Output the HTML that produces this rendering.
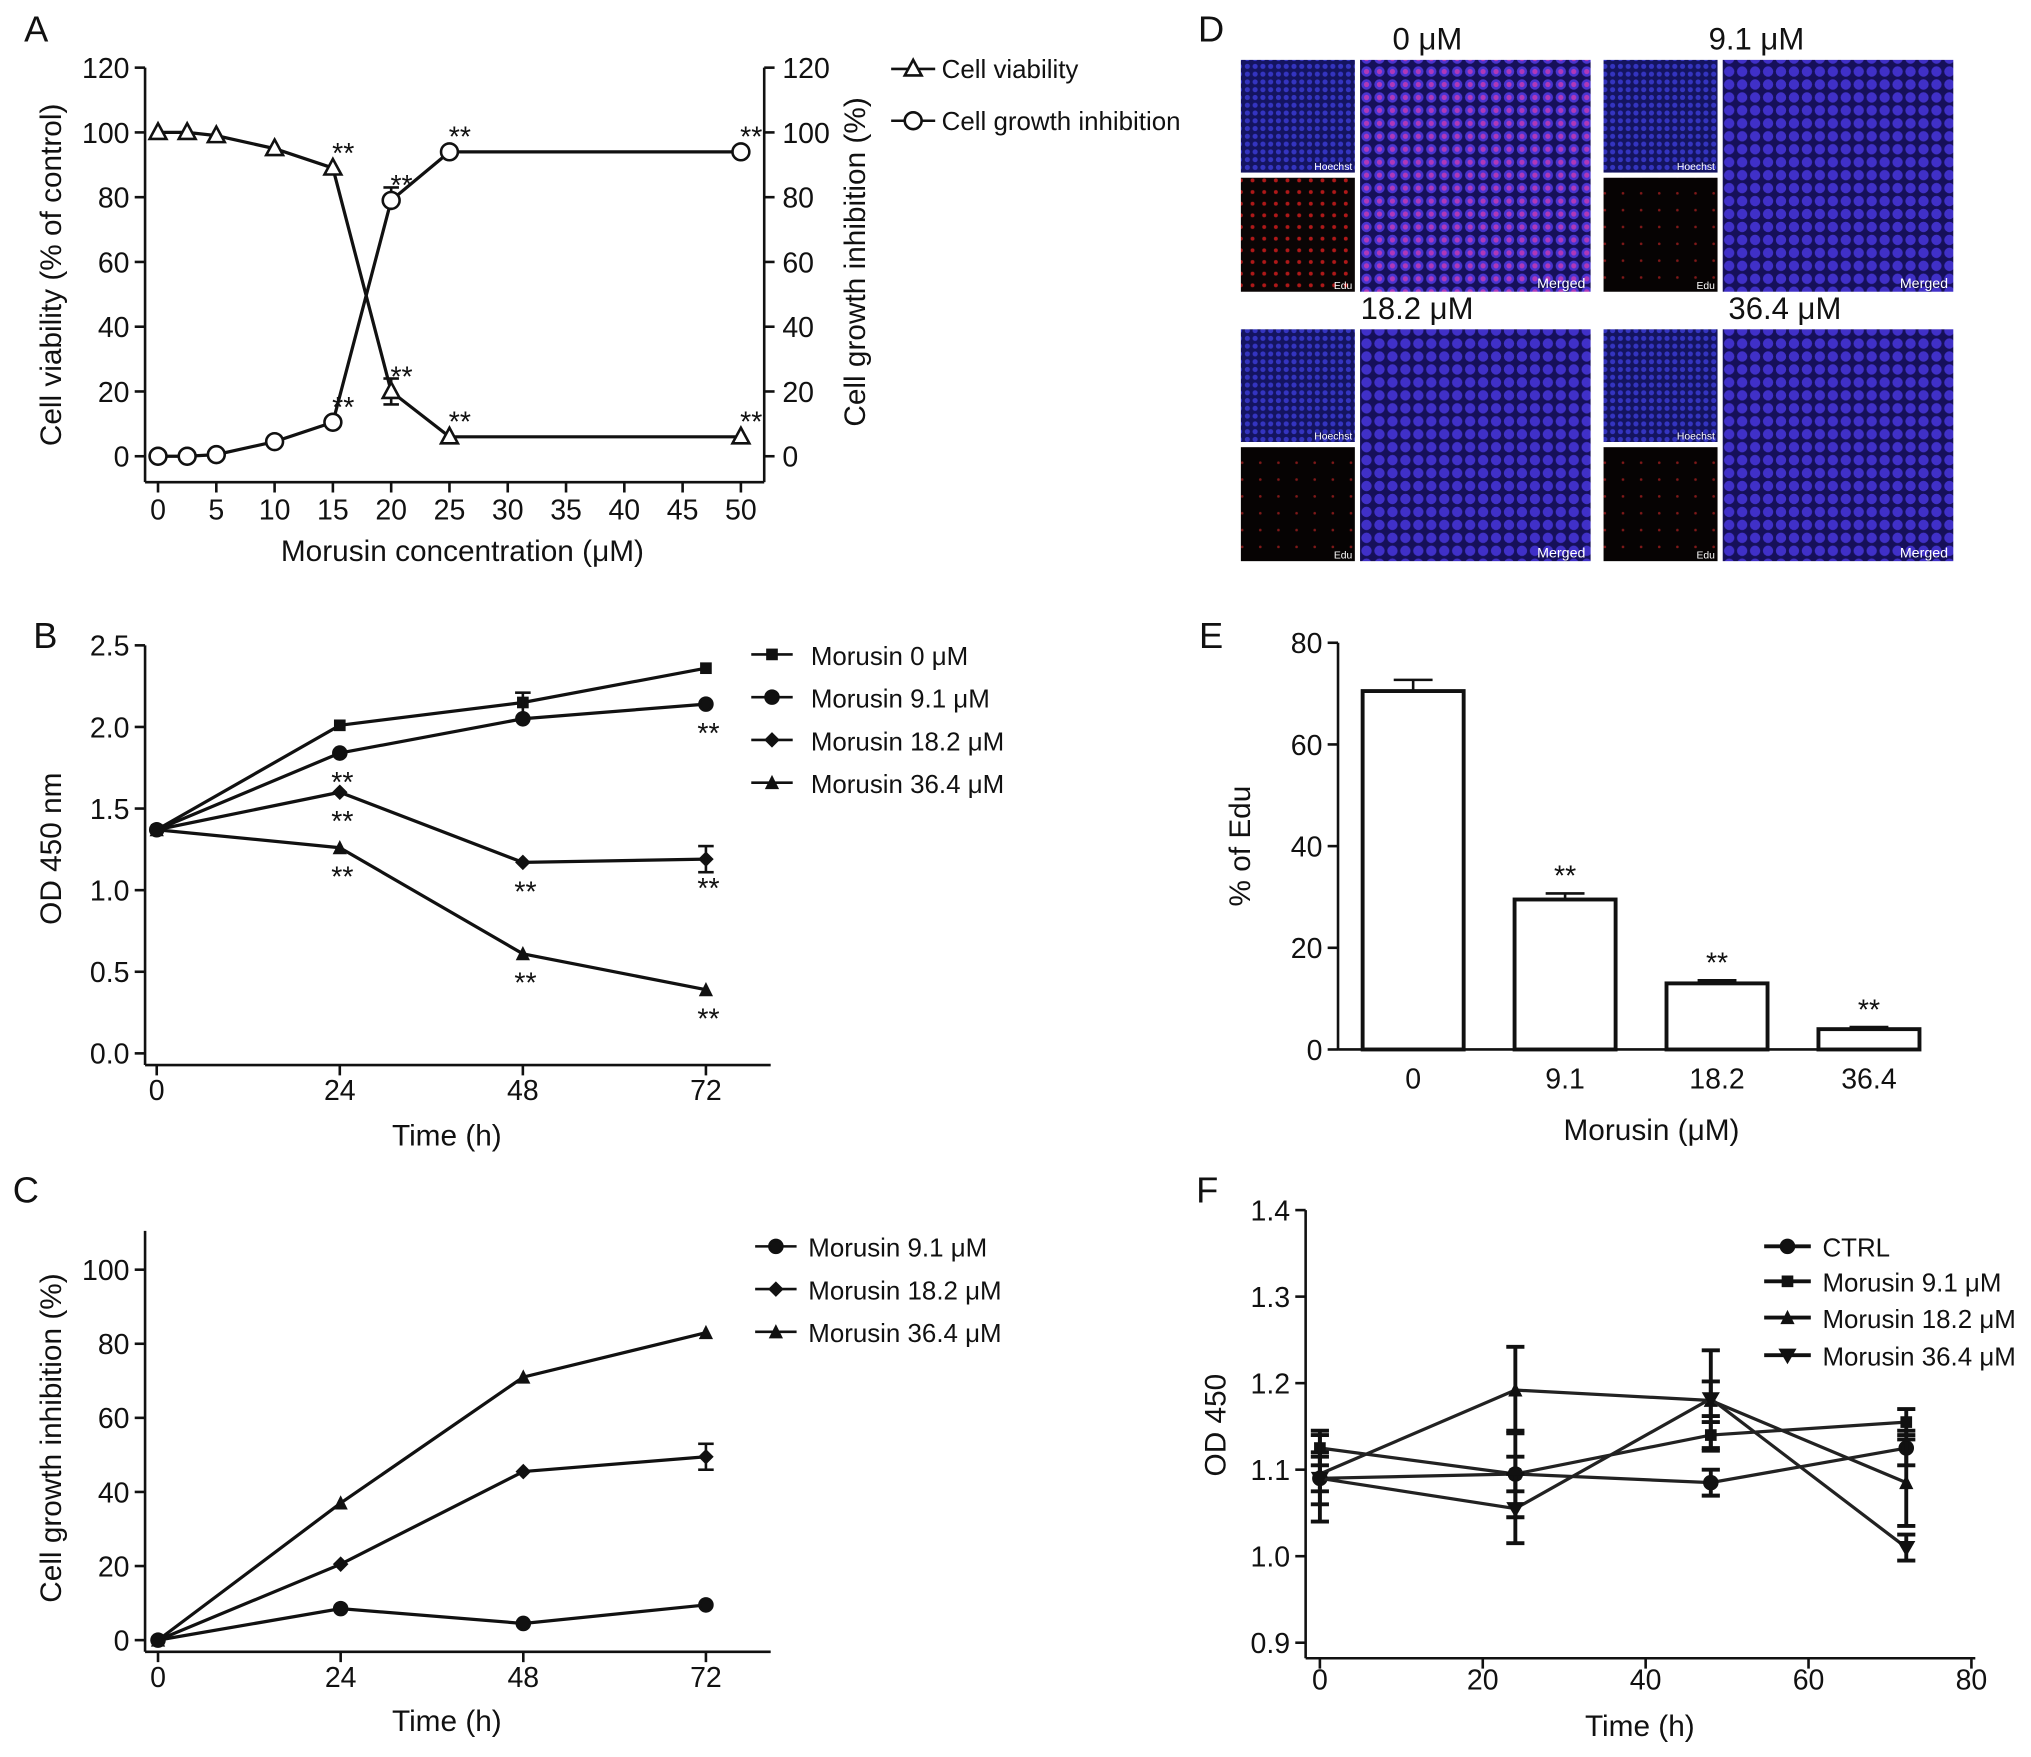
<!DOCTYPE html>
<html><head><meta charset="utf-8"><style>
html,body{margin:0;padding:0;background:#fff}
svg{display:block;font-family:"Liberation Sans",Arial,sans-serif}
</style></head><body>
<svg id="fig" width="2031" height="1757" viewBox="0 0 1568 1356" xmlns="http://www.w3.org/2000/svg">
<defs>
<pattern id="pHo" width="6" height="6" patternUnits="userSpaceOnUse"><rect width="6" height="6" fill="#141460"/><circle cx="3" cy="3" r="2" fill="#3434c0"/></pattern>
<pattern id="pEd" width="9" height="9" patternUnits="userSpaceOnUse"><rect width="9" height="9" fill="#0a0505"/><circle cx="4" cy="4" r="1.5" fill="#b01818"/></pattern>
<pattern id="pEd2" width="14" height="13" patternUnits="userSpaceOnUse"><rect width="14" height="13" fill="#060303"/><circle cx="7" cy="6" r="1" fill="#801818"/></pattern>
<pattern id="pMe" width="10" height="10" patternUnits="userSpaceOnUse"><rect width="10" height="10" fill="#16105a"/><circle cx="5" cy="5" r="4" fill="#4a34d0"/><circle cx="5" cy="5" r="2" fill="#b038b8"/></pattern>
<pattern id="pMe2" width="10" height="10" patternUnits="userSpaceOnUse"><rect width="10" height="10" fill="#16105a"/><circle cx="5" cy="5" r="4" fill="#4030c8"/></pattern>
</defs>
<g id="root"></g>
</svg>
<script>
const NS="http://www.w3.org/2000/svg";
const root=document.getElementById('root');
function el(tag,attrs,parent,text){const e=document.createElementNS(NS,tag);for(const k in attrs)e.setAttribute(k,attrs[k]);if(text!==undefined)e.textContent=text;(parent||root).appendChild(e);return e;}
function ln(x1,y1,x2,y2,p,w){return el('line',{x1,y1,x2,y2,stroke:'#111','stroke-width':w||2},p);}
function tx(x,y,s,size,anchor,p,rot){const a={x,y,'font-size':size,'text-anchor':anchor||'middle',fill:'#111'};if(rot)a.transform=`rotate(${rot} ${x} ${y})`;return el('text',a,p,s);}
function marker(type,x,y,p,open){
  const f=open?'#fff':'#111';
  if(type==='circle')return el('circle',{cx:x,cy:y,r:open?6.5:5,fill:f,stroke:'#111','stroke-width':2},p);
  if(type==='square')return el('rect',{x:x-4.5,y:y-4.5,width:9,height:9,fill:'#111'},p);
  if(type==='diamond')return el('polygon',{points:`${x},${y-6} ${x+6},${y} ${x},${y+6} ${x-6},${y}`,fill:'#111'},p);
  if(type==='tri')return el('polygon',{points:`${x},${y-(open?7:6)} ${x+(open?6.5:5.5)},${y+5} ${x-(open?6.5:5.5)},${y+5}`,fill:f,stroke:'#111','stroke-width':open?2:0},p);
  if(type==='itri')return el('polygon',{points:`${x},${y+7} ${x+7},${y-5} ${x-7},${y-5}`,fill:'#111'},p);
}
// ---------- DATA ----------
const concA=[0,2.5,5,10,15,20,25,50];
const viability=[100,100,99,95,89,20,6,6];
const inhibition=[0,0,0.5,4.5,10.5,79,94,94];
const starsA=[15,20,25,50];
const xTicksA=[0,5,10,15,20,25,30,35,40,45,50];
const yTicksA=[0,20,40,60,80,100,120];

const timeB=[0,24,48,72];
const seriesBNames=['Morusin 0 μM','Morusin 9.1 μM','Morusin 18.2 μM','Morusin 36.4 μM'];
const b0=[1.37,2.01,2.15,2.36];
const b91=[1.37,1.84,2.05,2.14];
const b182=[1.37,1.60,1.17,1.19];
const b364=[1.37,1.26,0.61,0.39];
const yTicksB=[0,0.5,1.0,1.5,2.0,2.5];

const timeC=[0,24,48,72];
const seriesCNames=['Morusin 9.1 μM','Morusin 18.2 μM','Morusin 36.4 μM'];
const c91=[0,8.5,4.5,9.5];
const c182=[0,20.5,45.5,49.5];
const c364=[0,37,71,83];
const yTicksC=[0,20,40,60,80,100];

const catsE=['0','9.1','18.2','36.4'];
const valsE=[70.5,29.5,13,4];
const errE=[2.2,1.2,0.6,0.4];
const yTicksE=[0,20,40,60,80];

const timeF=[0,24,48,72];
const seriesFNames=['CTRL','Morusin 9.1 μM','Morusin 18.2 μM','Morusin 36.4 μM'];
const fCtrl=[1.09,1.095,1.085,1.125];
const f91=[1.125,1.095,1.14,1.155];
const f182=[1.095,1.192,1.18,1.085];
const f364=[1.09,1.055,1.182,1.01];
const eCtrl=[0.03,0.02,0.015,0.02];
const e91=[0.02,0.05,0.015,0.015];
const e182=[0.02,0.05,0.058,0.05];
const e364=[0.05,0.04,0.02,0.015];
const yTicksF=[0.9,1.0,1.1,1.2,1.3,1.4];
const xTicksF=[0,20,40,60,80];

// ---------- Panel letters ----------
[['A',28,22],['B',35,490],['C',20,918],['D',935,22],['E',935,490],['F',932,918]].forEach(([t,x,y])=>{
  const e=tx(x,y+10,t,28,'middle');
});

// ---------- Panel A ----------
(function(){
const g=el('g',{});
const X=v=>122+v*9, Y=v=>352-v*2.5;
ln(112,52,112,372,g);ln(112,372,590,372,g);ln(590,52,590,372,g);
yTicksA.forEach(v=>{ln(104,Y(v),112,Y(v),g);tx(100,Y(v)+8,String(v),22,'end',g);ln(590,Y(v),598,Y(v),g);tx(604,Y(v)+8,String(v),22,'start',g);});
xTicksA.forEach(v=>{ln(X(v),372,X(v),380,g);tx(X(v),401,String(v),22,'middle',g);});
tx(357,433,'Morusin concentration (μM)',23,'middle',g);
tx(47,212,'Cell viability (% of control)',23,'middle',g,-90);
tx(668,202,'Cell growth inhibition (%)',23,'middle',g,-90);
const s1=el('polyline',{points:concA.map((c,i)=>X(c)+','+Y(viability[i])).join(' '),fill:'none',stroke:'#111','stroke-width':2.5},g);

const s2=el('polyline',{points:concA.map((c,i)=>X(c)+','+Y(inhibition[i])).join(' '),fill:'none',stroke:'#111','stroke-width':2.5},g);

ln(X(20),Y(24),X(20),Y(16),g);ln(X(20)-6,Y(24),X(20)+6,Y(24),g);ln(X(20)-6,Y(16),X(20)+6,Y(16),g);
ln(X(20),Y(83),X(20),Y(76),g);ln(X(20)-6,Y(83),X(20)+6,Y(83),g);
concA.forEach((c,i)=>{const m=marker('tri',X(c),Y(viability[i]),g,true);
 const n=marker('circle',X(c),Y(inhibition[i]),g,true);});
concA.forEach((c,i)=>{if(starsA.includes(c)){tx(X(c)+8,Y(viability[i])-4,'**',22,'middle',g);tx(X(c)+8,Y(inhibition[i])-4,'**',22,'middle',g);}});
const lg=el('g',{},g);
ln(688,53,722,53,lg);marker('tri',705,53,lg,true);tx(727,60,'Cell viability',20,'start',lg);
ln(688,93,722,93,lg);marker('circle',705,93,lg,true);tx(727,100,'Cell growth inhibition',20,'start',lg);
})();

// ---------- Panel B ----------
(function(){
const g=el('g',{});
const X=v=>121+v*(424/72), Y=v=>813-v*126;
ln(112,498,112,822,g);ln(112,822,595,822,g);
yTicksB.forEach(v=>{ln(104,Y(v),112,Y(v),g);tx(100,Y(v)+8,v.toFixed(1),22,'end',g);});
timeB.forEach(v=>{ln(X(v),822,X(v),830,g);tx(X(v),849,String(v),22,'middle',g);});
tx(345,884,'Time (h)',23,'middle',g);
tx(47,655,'OD 450 nm',23,'middle',g,-90);
const series=[b0,b91,b182,b364],mk=['square','circle','diamond','tri'];
series.forEach((s,k)=>{const p=el('polyline',{points:timeB.map((t,i)=>X(t)+','+Y(s[i])).join(' '),fill:'none',stroke:'#111','stroke-width':2.5},g);
 
 timeB.forEach((t,i)=>{const m=marker(mk[k],X(t),Y(s[i]),g);});});
ln(X(48),Y(2.21),X(48),Y(2.09),g);ln(X(48)-6,Y(2.21),X(48)+6,Y(2.21),g);
ln(X(72),Y(1.27),X(72),Y(1.11),g);ln(X(72)-6,Y(1.27),X(72)+6,Y(1.27),g);ln(X(72)-6,Y(1.11),X(72)+6,Y(1.11),g);
[[24,b91[1]],[24,b182[1]],[24,b364[1]],[48,b182[2]],[72,b182[3]],[48,b364[2]],[72,b364[3]],[72,b91[3]]].forEach(([t,v])=>{
 tx(X(t)+2,Y(v)+30,'**',22,'middle',g);});
const lg=el('g',{},g);
seriesBNames.forEach((n,k)=>{const y=505+k*33;ln(580,y,612,y,lg);marker(mk[k],596,y,lg);tx(626,y+8,n,20,'start',lg);});
})();

// ---------- Panel C ----------
(function(){
const g=el('g',{});
const X=v=>122+v*(423/72), Y=v=>1266-v*2.86;
ln(112,950,112,1275,g);ln(112,1275,595,1275,g);
yTicksC.forEach(v=>{ln(104,Y(v),112,Y(v),g);tx(100,Y(v)+8,String(v),22,'end',g);});
timeC.forEach(v=>{ln(X(v),1275,X(v),1283,g);tx(X(v),1302,String(v),22,'middle',g);});
tx(345,1336,'Time (h)',23,'middle',g);
tx(47,1110,'Cell growth inhibition (%)',23,'middle',g,-90);
const series=[c91,c182,c364],mk=['circle','diamond','tri'];
series.forEach((s,k)=>{const p=el('polyline',{points:timeC.map((t,i)=>X(t)+','+Y(s[i])).join(' '),fill:'none',stroke:'#111','stroke-width':2.5},g);
 
 timeC.forEach((t,i)=>{const m=marker(mk[k],X(t),Y(s[i]),g);});});
ln(X(72),Y(53),X(72),Y(46),g);ln(X(72)-6,Y(53),X(72)+6,Y(53),g);ln(X(72)-6,Y(46),X(72)+6,Y(46),g);
const lg=el('g',{},g);
seriesCNames.forEach((n,k)=>{const y=962+k*33;ln(583,y,615,y,lg);marker(mk[k],599,y,lg);tx(624,y+8,n,20,'start',lg);});
})();

// ---------- Panel D ----------
(function(){
const g=el('g',{});
const groups=[[958,46,'0 μM',1102],[1238,46,'9.1 μM',1356],[958,254,'18.2 μM',1094],[1238,254,'36.4 μM',1378]];
groups.forEach(([x,y,lab,lx],k)=>{
 const gg=el('g',{},g);
 el('rect',{x,y,width:88,height:87,fill:'url(#pHo)'},gg);
 el('rect',{x,y:y+91,width:88,height:88,fill:k===0?'url(#pEd)':'url(#pEd2)'},gg);
 el('rect',{x:x+92,y,width:178,height:179,fill:k===0?'url(#pMe)':'url(#pMe2)'},gg);
 const t1=tx(x+86,y+85,'Hoechst',8,'end',gg);t1.setAttribute('fill','#fff');
 const t2=tx(x+86,y+177,'Edu',8,'end',gg);t2.setAttribute('fill','#fff');
 const t3=tx(x+266,y+176,'Merged',11,'end',gg);t3.setAttribute('fill','#fff');
 tx(lx,y-8,lab,24,'middle',gg);
});
})();

// ---------- Panel E ----------
(function(){
const g=el('g',{});
const Y=v=>810-v*3.925, X=i=>1091+i*117.3;
ln(1033,496,1033,810,g);ln(1033,810,1480,810,g);
yTicksE.forEach(v=>{ln(1025,Y(v),1033,Y(v),g);tx(1021,Y(v)+8,String(v),22,'end',g);});
catsE.forEach((c,i)=>{tx(X(i),840,c,22,'middle',g);});
tx(1275,880,'Morusin (μM)',23,'middle',g);
tx(965,653,'% of Edu',23,'middle',g,-90);
valsE.forEach((v,i)=>{
 ln(X(i),Y(v),X(i),Y(v+errE[i]),g);ln(X(i)-15,Y(v+errE[i]),X(i)+15,Y(v+errE[i]),g);
 const r=el('rect',{x:X(i)-39,y:Y(v),width:78,height:810-Y(v),fill:'#fff',stroke:'#111','stroke-width':3},g);
 
 if(i>0)tx(X(i),Y(v+errE[i])-6,'**',22,'middle',g);
});
})();

// ---------- Panel F ----------
(function(){
const g=el('g',{});
const X=v=>1019+v*(503/80), Y=v=>1268-(v-0.9)*668;
ln(1008,934,1008,1280,g);ln(1008,1280,1525,1280,g);
yTicksF.forEach(v=>{ln(1000,Y(v),1008,Y(v),g);tx(996,Y(v)+8,v.toFixed(1),22,'end',g);});
xTicksF.forEach(v=>{ln(X(v),1280,X(v),1288,g);tx(X(v),1304,String(v),22,'middle',g);});
tx(1266,1340,'Time (h)',23,'middle',g);
tx(946,1100,'OD 450',23,'middle',g,-90);
const series=[fCtrl,f91,f182,f364],errs=[eCtrl,e91,e182,e364],mk=['circle','square','tri','itri'];
series.forEach((s,k)=>{
 const p=el('polyline',{points:timeF.map((t,i)=>X(t)+','+Y(s[i])).join(' '),fill:'none',stroke:'#222','stroke-width':2.5},g);
 
 timeF.forEach((t,i)=>{const e=errs[k][i];ln(X(t),Y(s[i]+e),X(t),Y(s[i]-e),g,3);ln(X(t)-7,Y(s[i]+e),X(t)+7,Y(s[i]+e),g,3);ln(X(t)-7,Y(s[i]-e),X(t)+7,Y(s[i]-e),g,3);
  const m=marker(mk[k],X(t),Y(s[i]),g);});
});
const lg=el('g',{},g);
[962,989,1017,1046].forEach((y,k)=>{ln(1362,y,1398,y,lg,3);marker(mk[k],1380,y,lg);tx(1407,y+8,seriesFNames[k],20,'start',lg);});
})();
</script>
</body></html>
